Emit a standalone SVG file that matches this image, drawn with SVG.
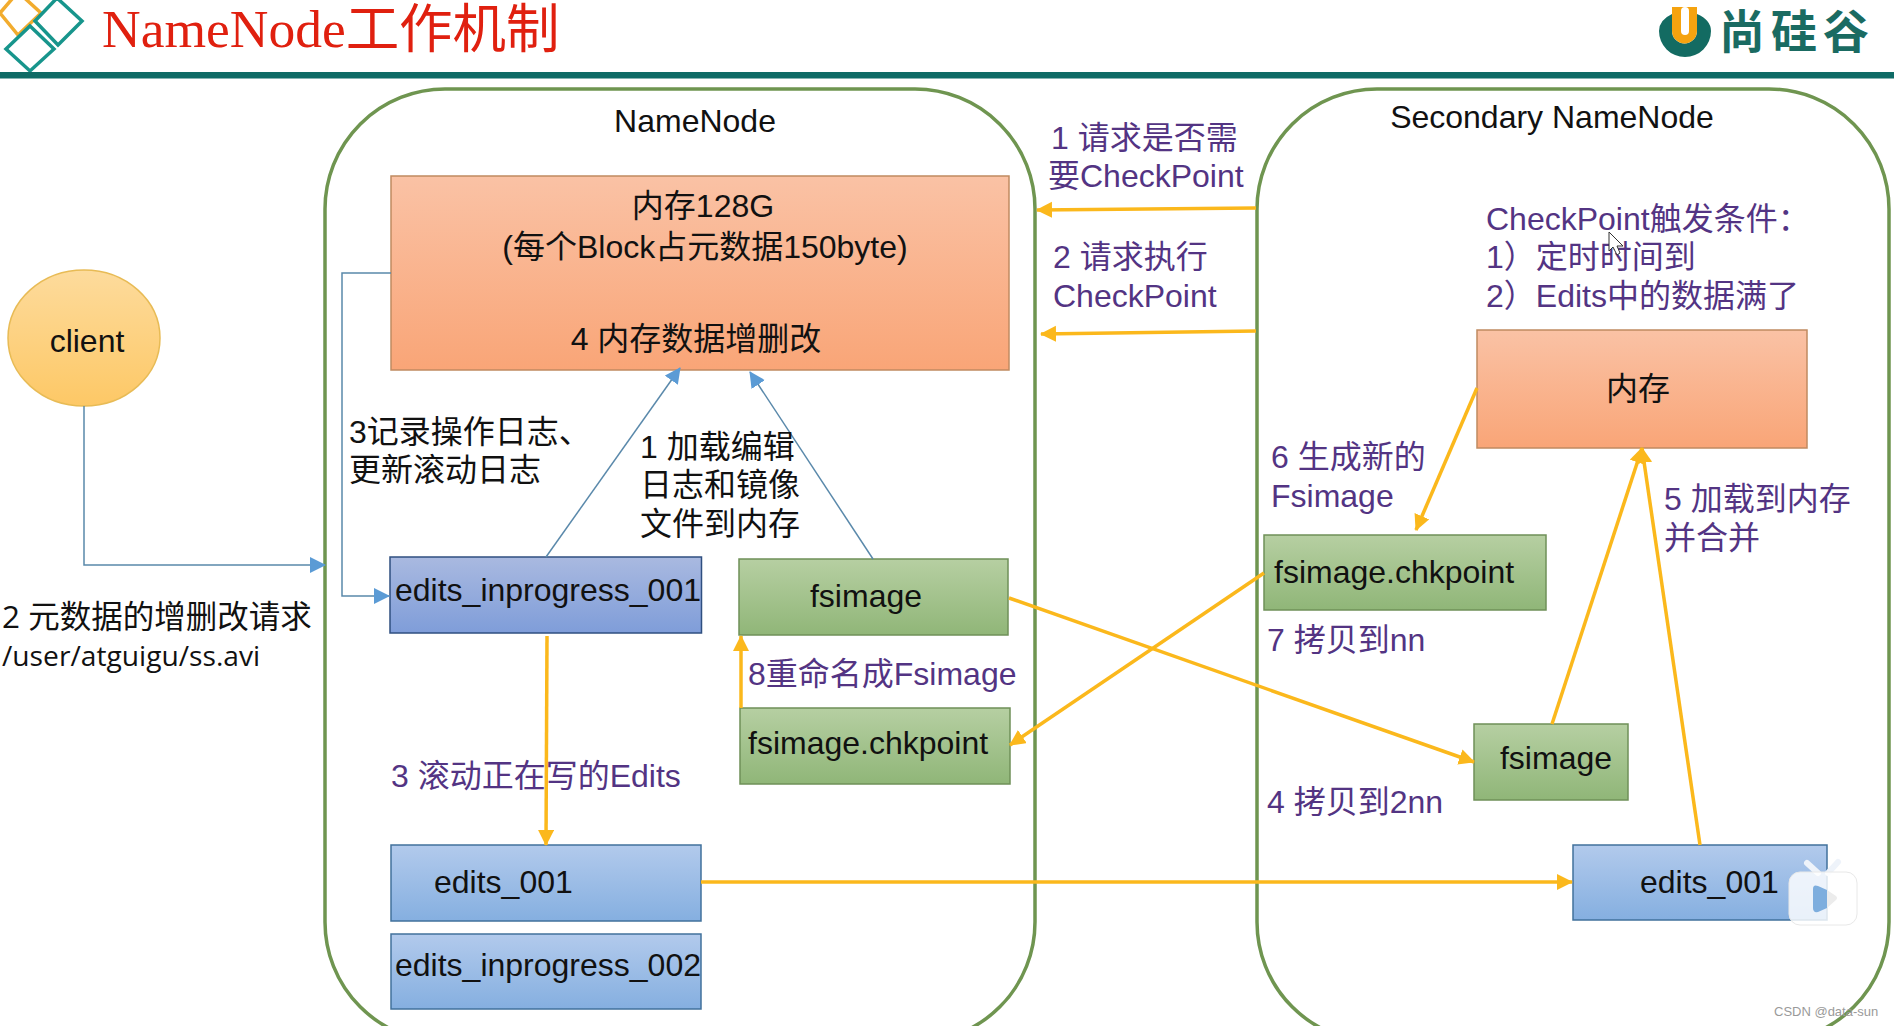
<svg xmlns="http://www.w3.org/2000/svg" width="1894" height="1026" viewBox="0 0 1894 1026">
<style>
text{font-family:"Liberation Sans","Noto Sans CJK SC",sans-serif;font-size:32px;fill:#111}
.p{fill:#533483}
.c{text-anchor:middle}
.box{stroke-width:1.5}
.mem{fill:url(#gMem);stroke:#c08a60}
.ip{fill:url(#gIp);stroke:#2f4f80}
.gr{fill:url(#gGr);stroke:#6f9058}
.lb{fill:url(#gLb);stroke:#41719c}
.cont{fill:none;stroke:#6f9550;stroke-width:3.5}
.bl{fill:none;stroke:#5a89ab;stroke-width:1.5;marker-end:url(#aBlue)}
.or{fill:none;stroke:#fbb81c;stroke-width:3.5;marker-end:url(#aOr)}
.os{font-family:"Open Sans","Noto Sans CJK SC",sans-serif}
</style>
<defs>
<linearGradient id="gMem" x1="0" y1="0" x2="0" y2="1"><stop offset="0" stop-color="#fac2a5"/><stop offset="1" stop-color="#f9a577"/></linearGradient>
<linearGradient id="gIp" x1="0" y1="0" x2="0" y2="1"><stop offset="0" stop-color="#a9b9e0"/><stop offset="1" stop-color="#7f9dd9"/></linearGradient>
<linearGradient id="gGr" x1="0" y1="0" x2="0" y2="1"><stop offset="0" stop-color="#b6cfa2"/><stop offset="1" stop-color="#90b678"/></linearGradient>
<linearGradient id="gLb" x1="0" y1="0" x2="0" y2="1"><stop offset="0" stop-color="#b2caec"/><stop offset="1" stop-color="#85afe0"/></linearGradient>
<linearGradient id="gCl" x1="0" y1="0" x2="0" y2="1"><stop offset="0" stop-color="#fddb9c"/><stop offset="1" stop-color="#fdc866"/></linearGradient>
<marker id="aBlue" markerUnits="userSpaceOnUse" markerWidth="18" markerHeight="18" refX="15" refY="8" orient="auto"><path d="M0 0L16 8L0 16Z" fill="#5b9bd5"/></marker>
<marker id="aOr" markerUnits="userSpaceOnUse" markerWidth="18" markerHeight="18" refX="15" refY="8" orient="auto"><path d="M0 0L16 8L0 16Z" fill="#fbb81c"/></marker>
</defs>
<rect width="1894" height="1026" fill="#fff"/>
<g id="header">
<path d="M0 13L18 -8L41 13L18 35Z" fill="none" stroke="#f2ac2e" stroke-width="3.5"/>
<path d="M57 -2L82 21L58 45L35 21Z" fill="none" stroke="#17958c" stroke-width="3.5"/>
<path d="M30 26L54 49L30 71L6 49Z" fill="none" stroke="#17958c" stroke-width="3.5"/>
<rect x="0" y="72" width="1894" height="6.5" fill="#0f6b66"/>
<text x="102" y="47" style="font-family:'Liberation Serif','Noto Sans CJK SC',serif;font-size:53.5px;fill:#e0200f">NameNode<tspan dy="1" style="font-family:'Noto Sans CJK SC',sans-serif">工作机制</tspan></text>
<path d="M1672 14Q1659 20 1659 31A26 26 0 0 0 1711 31Q1711 20 1697 14L1697 31A12.500 12.500 0 0 1 1672 31Z" fill="#136b62"/>
<path d="M1672 7H1697V31A12.500 12.500 0 0 1 1672 31Z" fill="#f5a30f"/><rect x="1681" y="7" width="8" height="28" rx="4" fill="#fff"/>
<text x="1719" y="48" style="font-size:46px;font-weight:700;letter-spacing:6px;fill:#1a6b62">尚硅谷</text>
</g>
<g id="namenode"><rect class="cont" x="325" y="89" width="710" height="953" rx="120" ry="120"/><text class="c" x="695" y="132">NameNode</text></g>
<g id="secondary"><rect class="cont" x="1257" y="89" width="632" height="953" rx="120" ry="120"/><text class="c" x="1552" y="128">Secondary NameNode</text></g>
<g id="client"><ellipse cx="84" cy="338" rx="76" ry="68" fill="url(#gCl)" stroke="#e8bb55" stroke-width="1.5"/><text class="c" x="87" y="352">client</text></g>
<g id="memory128"><rect class="box mem" x="391" y="176" width="618" height="194"/><text class="c" x="703" y="217">内存128G</text><text class="c" x="705" y="258">(每个Block占元数据150byte)</text><text class="c" x="696" y="350">4 内存数据增删改</text></g>
<g id="edits-inprogress-001"><rect class="box ip" x="390" y="557" width="311.500" height="76"/><text x="395" y="601">edits_inprogress_001</text></g>
<g id="fsimage-nn"><rect class="box gr" x="739" y="559" width="269" height="76"/><text class="c" x="866" y="607">fsimage</text></g>
<g id="chkpoint-nn"><rect class="box gr" x="740" y="708" width="270" height="76"/><text x="748" y="754">fsimage.chkpoint</text></g>
<g id="edits-001-nn"><rect class="box lb" x="391" y="845" width="310" height="76"/><text x="434" y="893">edits_001</text></g>
<g id="edits-inprogress-002"><rect class="box lb" x="391" y="934" width="310" height="75"/><text x="395" y="976">edits_inprogress_002</text></g>
<g id="memory-sn"><rect class="box mem" x="1477" y="330" width="330" height="118"/><text class="c" x="1638" y="400">内存</text></g>
<g id="chkpoint-sn"><rect class="box gr" x="1264" y="535" width="282" height="75"/><text x="1274" y="583">fsimage.chkpoint</text></g>
<g id="fsimage-sn"><rect class="box gr" x="1474" y="724" width="154" height="76"/><text class="c" x="1556" y="769">fsimage</text></g>
<g id="edits-001-sn"><rect class="box lb" x="1573" y="845" width="254" height="75"/><text x="1640" y="893">edits_001</text></g>
<g id="connectors">
<path class="bl" d="M84 406V565H325"/>
<path class="bl" d="M391 273H342V596H389"/>
<path class="bl" d="M546 557L680 368"/>
<path class="bl" d="M873 559L750 372"/>
<path class="or" d="M1256 208L1037 210"/>
<path class="or" d="M1256 331L1041 334"/>
<path class="or" d="M1009 598L1474 762"/>
<path class="or" d="M1264 573L1010 745"/>
<path class="or" d="M1477 388L1416 530"/>
<path class="or" d="M1552 724L1642 448"/>
<path class="or" d="M1700 845L1642 448"/>
<path class="or" d="M547 636L546 845"/>
<path class="or" d="M701 882L1572 882"/>
<path class="or" d="M741 708V636"/>
</g>
<g id="labels">
<text class="p" x="1051" y="149">1 请求是否需</text><text class="p" x="1048" y="187">要CheckPoint</text>
<text class="p" x="1053" y="268">2 请求执行</text><text class="p" x="1053" y="307">CheckPoint</text>
<text class="p" x="1486" y="230">CheckPoint触发条件：</text><text class="p" x="1486" y="268">1）定时时间到</text><text class="p" x="1486" y="307">2）Edits中的数据满了</text>
<text class="p" x="1271" y="468">6 生成新的</text><text class="p" x="1271" y="507">Fsimage</text>
<text class="p" x="1664" y="510">5 加载到内存</text><text class="p" x="1664" y="549">并合并</text>
<text class="p" x="1267" y="651">7 拷贝到nn</text>
<text class="p" x="1267" y="813">4 拷贝到2nn</text>
<text class="p" x="748" y="685">8重命名成Fsimage</text>
<text class="p" x="391" y="787">3 滚动正在写的Edits</text>
<text x="349" y="443">3记录操作日志、</text><text x="349" y="481">更新滚动日志</text>
<text x="640" y="458">1 加载编辑</text><text x="640" y="496">日志和镜像</text><text x="640" y="535">文件到内存</text>
<text class="os" x="2" y="628" style="font-size:31.5px">2 元数据的增删改请求</text><text class="os" x="2" y="666" style="font-size:28.2px">/user/atguigu/ss.avi</text>
</g>
<g id="overlay">
<path d="M1609 232L1609 251L1613 247L1617 255L1620 253L1617 246L1623 246Z" fill="#fff" stroke="#333" stroke-width="1"/>
<path d="M1807 863L1818 873M1838 862L1828 873" stroke="#eef3fa" stroke-width="6" stroke-linecap="round"/>
<rect x="1789" y="872" width="68" height="53" rx="11" fill="#fff" fill-opacity=".82" stroke="#e8e8e8" stroke-width="1"/>
<path d="M1813 889Q1813 884 1818 886L1827 890V908L1818 912Q1813 913 1813 908Z" fill="#7eaede"/>
<path d="M1827 890L1836 896Q1838 898 1836 900L1827 908Z" fill="#ececec"/>
<text x="1774" y="1016" style="font-size:13px;fill:#9a9a9a">CSDN @data-sun</text>
</g>
</svg>
